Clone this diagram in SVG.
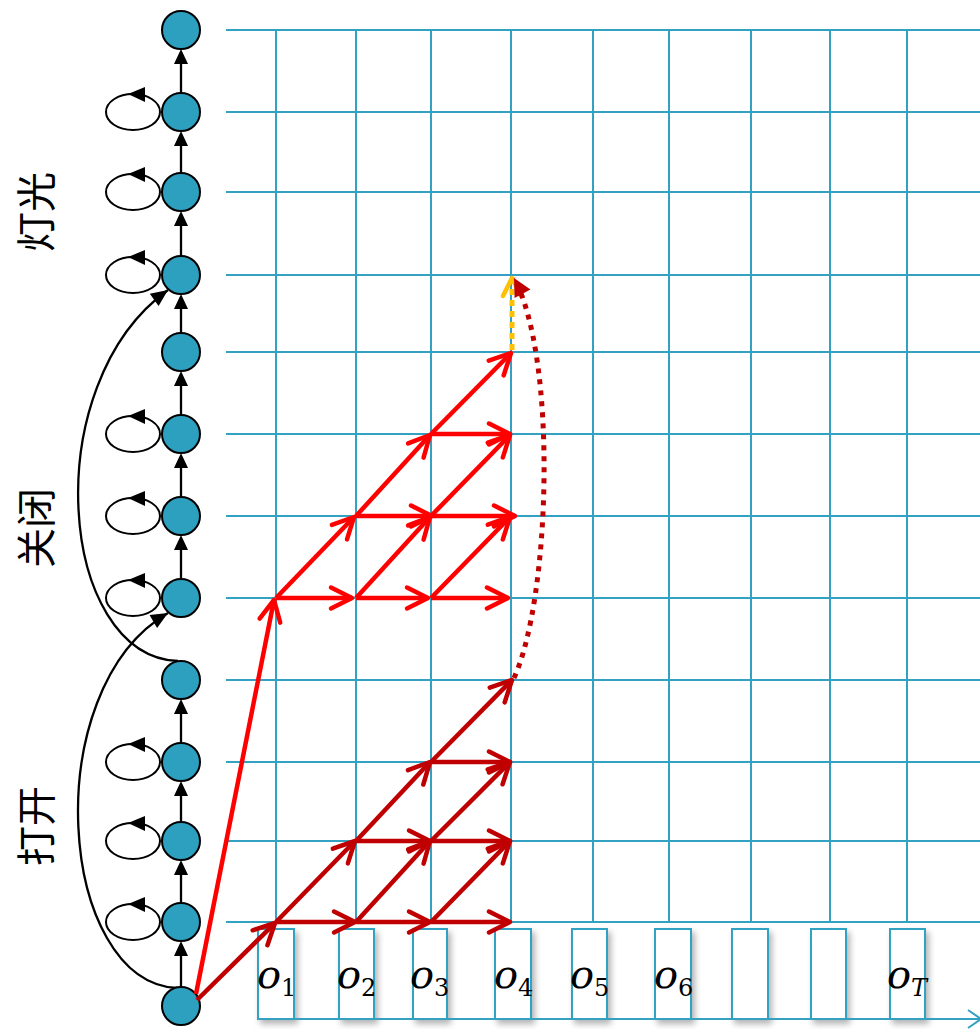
<svg xmlns="http://www.w3.org/2000/svg" width="980" height="1029" viewBox="0 0 980 1029">
<style>
.grid{stroke:#33A2C2;stroke-width:2;fill:none}
.box{stroke:#33A2C2;stroke-width:2;fill:#ffffff}
.node{fill:#2EA0BF;stroke:#000;stroke-width:2}
.loop{fill:none;stroke:#000;stroke-width:2}
.blk{stroke:#000;stroke-width:2.3;fill:none}
.tri{fill:#000}
.r{stroke:#FF0000;stroke-width:4.5;fill:none;marker-end:url(#hr)}
.d{stroke:#C00000;stroke-width:4.5;fill:none;marker-end:url(#hd)}
.lab{font-family:"Noto Sans CJK SC",sans-serif;font-size:40px;fill:#000}
.o{font-family:"DejaVu Serif",serif;font-style:italic;font-size:40px;fill:#000}
.s{font-family:"DejaVu Serif",serif;font-size:24px;fill:#000}
.si{font-family:"DejaVu Serif",serif;font-style:italic;font-size:24px;fill:#000}
</style>
<defs>
<marker id="hr" markerUnits="userSpaceOnUse" viewBox="-26 -14 30 28" markerWidth="30" markerHeight="28" refX="0" refY="0" orient="auto" overflow="visible"><path d="M-21,-10.5 L0,0 L-21,10.5" fill="none" stroke="#FF0000" stroke-width="4.5" stroke-linecap="round" stroke-linejoin="round"/></marker>
<marker id="hd" markerUnits="userSpaceOnUse" viewBox="-26 -14 30 28" markerWidth="30" markerHeight="28" refX="0" refY="0" orient="auto" overflow="visible"><path d="M-21,-10.5 L0,0 L-21,10.5" fill="none" stroke="#C00000" stroke-width="4.5" stroke-linecap="round" stroke-linejoin="round"/></marker>
<marker id="hy" markerUnits="userSpaceOnUse" viewBox="-26 -14 30 28" markerWidth="30" markerHeight="28" refX="0" refY="0" orient="auto" overflow="visible"><path d="M-18,-9 L0,0 L-18,9" fill="none" stroke="#FFC000" stroke-width="4.5" stroke-dasharray="none" stroke-linecap="round" stroke-linejoin="round"/></marker>
<marker id="hf" markerUnits="userSpaceOnUse" viewBox="-20 -12 24 24" markerWidth="24" markerHeight="24" refX="0" refY="0" orient="auto" overflow="visible"><path d="M-18,-9 L0,0 L-18,9 z" fill="#C00000" stroke="none"/></marker>
<marker id="hb" markerUnits="userSpaceOnUse" viewBox="-18 -10 20 20" markerWidth="20" markerHeight="20" refX="0" refY="0" orient="auto" overflow="visible"><path d="M-17,-7.5 L0,0 L-17,7.5 z" fill="#000"/></marker>
<filter id="sh" x="-30%" y="-10%" width="160%" height="130%"><feDropShadow dx="3" dy="4" stdDeviation="3" flood-color="#000" flood-opacity="0.3"/></filter>
</defs>

<g id="grid">
<path class="grid" d="M226,30H980M226,112H980M226,192H980M226,275H980M226,352H980M226,434H980M226,516H980M226,598H980M226,680H980M226,762H980M226,841H980M226,922H980"/>
<path class="grid" d="M276,30V922M356,30V922M431,30V922M511,30V922M593,30V922M669,30V922M751,30V922M830,30V922M907,30V922"/>
</g>

<g id="observations">
<g filter="url(#sh)">
<rect class="box" x="258" y="929" width="36" height="90"/>
<rect class="box" x="339" y="929" width="35" height="90"/>
<rect class="box" x="413" y="929" width="34" height="90"/>
<rect class="box" x="495" y="929" width="36" height="90"/>
<rect class="box" x="572" y="929" width="35" height="90"/>
<rect class="box" x="655" y="929" width="36" height="90"/>
<rect class="box" x="732" y="929" width="36" height="90"/>
<rect class="box" x="811" y="929" width="35" height="90"/>
<rect class="box" x="890" y="929" width="35" height="90"/>
</g>
<path class="grid" d="M258,1019H980M968,1010L981,1019L968,1028"/>
<text><tspan class="o" x="257" y="988">o</tspan><tspan class="s" x="281" y="996">1</tspan></text>
<text><tspan class="o" x="337" y="988">o</tspan><tspan class="s" x="361" y="996">2</tspan></text>
<text><tspan class="o" x="410" y="988">o</tspan><tspan class="s" x="434" y="996">3</tspan></text>
<text><tspan class="o" x="494" y="988">o</tspan><tspan class="s" x="518" y="996">4</tspan></text>
<text><tspan class="o" x="570" y="988">o</tspan><tspan class="s" x="594" y="996">5</tspan></text>
<text><tspan class="o" x="654" y="988">o</tspan><tspan class="s" x="678" y="996">6</tspan></text>
<text><tspan class="o" x="887" y="988">o</tspan><tspan class="si" x="911" y="996">T</tspan></text>
</g>

<g id="labels">
<text class="lab" transform="translate(34,212) rotate(-90)" text-anchor="middle" dominant-baseline="central">灯光</text>
<text class="lab" transform="translate(34,528) rotate(-90)" text-anchor="middle" dominant-baseline="central">关闭</text>
<text class="lab" transform="translate(34,826) rotate(-90)" text-anchor="middle" dominant-baseline="central">打开</text>
</g>

<g id="connectors">
<g id="self-loops">
<ellipse class="loop" cx="133" cy="112" rx="27" ry="18"/><polygon class="tri" points="128,94 145,87 145,102"/>
<ellipse class="loop" cx="133" cy="192" rx="27" ry="18"/><polygon class="tri" points="128,174 145,167 145,182"/>
<ellipse class="loop" cx="133" cy="275" rx="27" ry="18"/><polygon class="tri" points="128,257 145,250 145,265"/>
<ellipse class="loop" cx="133" cy="434" rx="27" ry="18"/><polygon class="tri" points="128,416 145,409 145,424"/>
<ellipse class="loop" cx="133" cy="516" rx="27" ry="18"/><polygon class="tri" points="128,498 145,491 145,506"/>
<ellipse class="loop" cx="133" cy="598" rx="27" ry="18"/><polygon class="tri" points="128,580 145,573 145,588"/>
<ellipse class="loop" cx="133" cy="762" rx="27" ry="18"/><polygon class="tri" points="128,744 145,737 145,752"/>
<ellipse class="loop" cx="133" cy="841" rx="27" ry="18"/><polygon class="tri" points="128,823 145,816 145,831"/>
<ellipse class="loop" cx="133" cy="922" rx="27" ry="18"/><polygon class="tri" points="128,904 145,897 145,912"/>
</g>
<g id="chain">
<path class="blk" d="M181,93V62M181,173V140M181,256V220M181,333V303M181,415V380M181,497V462M181,579V544M181,743V708M181,822V790M181,903V869M181,987V950"/>
<polygon class="tri" points="181,49 174,64 188,64"/>
<polygon class="tri" points="181,131 174,146 188,146"/>
<polygon class="tri" points="181,211 174,226 188,226"/>
<polygon class="tri" points="181,294 174,309 188,309"/>
<polygon class="tri" points="181,371 174,386 188,386"/>
<polygon class="tri" points="181,453 174,468 188,468"/>
<polygon class="tri" points="181,535 174,550 188,550"/>
<polygon class="tri" points="181,699 174,714 188,714"/>
<polygon class="tri" points="181,781 174,796 188,796"/>
<polygon class="tri" points="181,860 174,875 188,875"/>
<polygon class="tri" points="181,941 174,956 188,956"/>
</g>
<g id="jumps">
<path class="blk" d="M177,988 C58,982 36,690 168,613" marker-end="url(#hb)"/>
<path class="blk" d="M178,661 C58,656 36,385 168,290" marker-end="url(#hb)"/>
</g>
</g>

<g id="nodes">
<circle id="s13" class="node" cx="181" cy="30" r="19"/>
<circle id="s12" class="node" cx="181" cy="112" r="19"/>
<circle id="s11" class="node" cx="181" cy="192" r="19"/>
<circle id="s10" class="node" cx="181" cy="275" r="19"/>
<circle id="s9" class="node" cx="181" cy="352" r="19"/>
<circle id="s8" class="node" cx="181" cy="434" r="19"/>
<circle id="s7" class="node" cx="181" cy="516" r="19"/>
<circle id="s6" class="node" cx="181" cy="598" r="19"/>
<circle id="s5" class="node" cx="181" cy="680" r="19"/>
<circle id="s4" class="node" cx="181" cy="762" r="19"/>
<circle id="s3" class="node" cx="181" cy="841" r="19"/>
<circle id="s2" class="node" cx="181" cy="922" r="19"/>
<circle id="s1" class="node" cx="181" cy="1006" r="19"/>
</g>

<g id="paths">
<g id="dark">
<line class="d" x1="197" y1="1000" x2="275" y2="923"/>
<line class="d" x1="276" y1="922" x2="355" y2="922"/>
<line class="d" x1="356" y1="922" x2="430" y2="922"/>
<line class="d" x1="431" y1="922" x2="510" y2="922"/>
<line class="d" x1="276" y1="922" x2="355" y2="841"/>
<line class="d" x1="356" y1="922" x2="430" y2="841"/>
<line class="d" x1="431" y1="922" x2="510" y2="841"/>
<line class="d" x1="356" y1="841" x2="430" y2="841"/>
<line class="d" x1="431" y1="841" x2="510" y2="841"/>
<line class="d" x1="356" y1="841" x2="430" y2="762"/>
<line class="d" x1="431" y1="841" x2="510" y2="762"/>
<line class="d" x1="431" y1="762" x2="510" y2="762"/>
<line class="d" x1="431" y1="762" x2="512" y2="680"/>
</g>
<g id="bright">
<line class="r" x1="196" y1="994" x2="274" y2="600"/>
<line class="r" x1="276" y1="598" x2="352" y2="598"/>
<line class="r" x1="356" y1="598" x2="428" y2="598"/>
<line class="r" x1="431" y1="598" x2="508" y2="598"/>
<line class="r" x1="276" y1="598" x2="354" y2="517"/>
<line class="r" x1="356" y1="598" x2="430" y2="517"/>
<line class="r" x1="431" y1="598" x2="510" y2="517"/>
<line class="r" x1="356" y1="516" x2="432" y2="516"/>
<line class="r" x1="431" y1="516" x2="515" y2="516"/>
<line class="r" x1="356" y1="516" x2="430" y2="435"/>
<line class="r" x1="431" y1="516" x2="510" y2="435"/>
<line class="r" x1="431" y1="434" x2="510" y2="434"/>
<line class="r" x1="431" y1="434" x2="511" y2="353"/>
</g>
<line x1="512" y1="350" x2="512" y2="278" stroke="#FFC000" stroke-width="5" stroke-dasharray="6 5" marker-end="url(#hy)"/>
<path d="M514,678 C550,600 558,360 514,278" fill="none" stroke="#C00000" stroke-width="5" stroke-dasharray="5 6" marker-end="url(#hf)"/>
</g>
</svg>
